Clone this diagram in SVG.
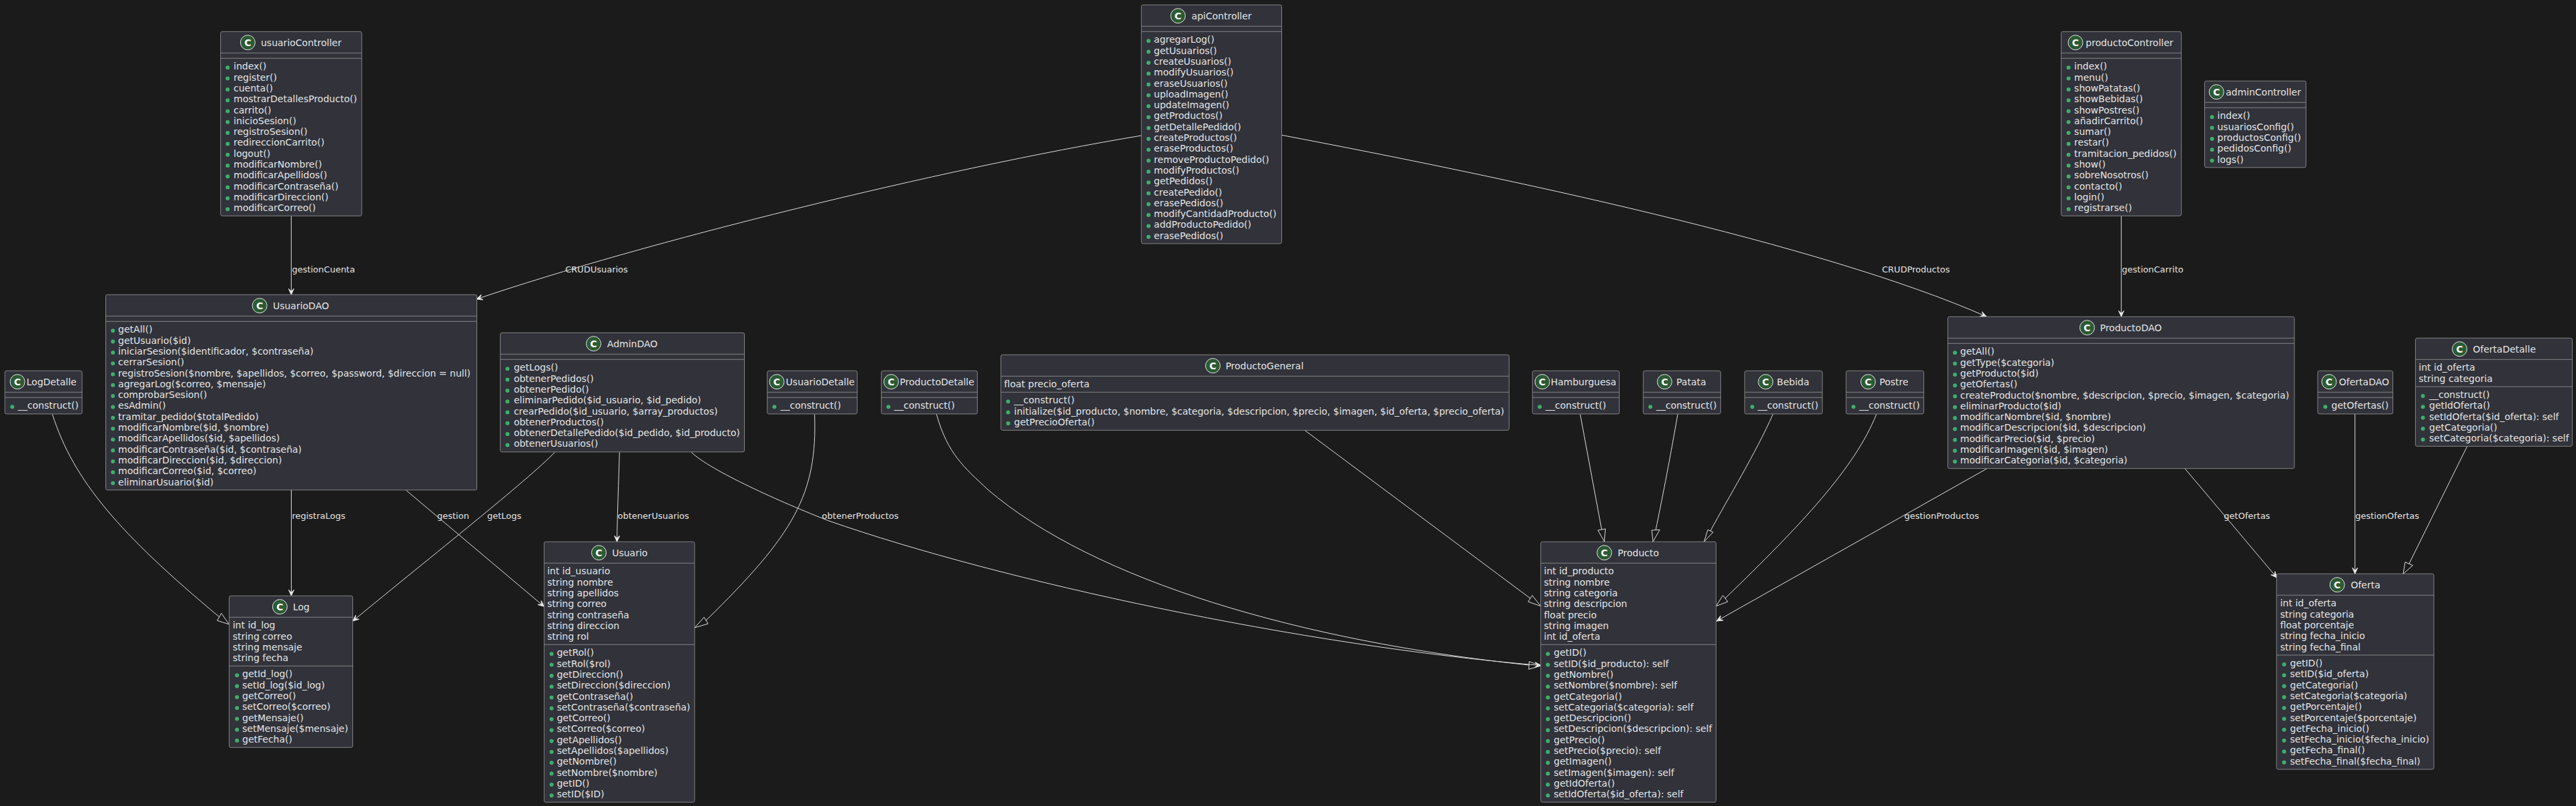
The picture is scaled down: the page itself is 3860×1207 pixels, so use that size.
<svg xmlns="http://www.w3.org/2000/svg" width="3860" height="1207" viewBox="0 0 3860 1207">
<style>
text{font-family:"DejaVu Sans",Verdana,sans-serif;font-size:14px;fill:#e6e6e6}
.box{fill:#31323a;stroke:#858585;stroke-width:1}
.sep{stroke:#858585;stroke-width:1}
.spot{fill:#2c5a33;stroke:#e6e6e6;stroke-width:1}
text.c{font-size:14px;font-weight:bold;text-anchor:middle;fill:#fff}
.dot{fill:#3fae6b}
.lnk{fill:none;stroke:#e0e0e0;stroke-width:1}
.arr{marker-end:url(#open)}
.tri{fill:none;stroke:#e0e0e0;stroke-width:1}
text.lb{font-size:13px}
</style>
<defs>
<marker id="open" markerUnits="userSpaceOnUse" viewBox="-12 -7 14 14" refX="0" refY="0" markerWidth="14" markerHeight="14" orient="auto"><path d="M0,0 L-9,-4 L-5,0 L-9,4 Z" fill="#e8e8e8" stroke="#e8e8e8" stroke-width="1"/></marker>
</defs>
<rect width="3860" height="1207" fill="#1b1b1b"/>
<g id="connectors">
<path class="lnk arr" d="M436.4,323.3 V441.3"/>
<path class="lnk arr" d="M1710.3,203 C1410,253 964,363 714,448"/>
<path class="lnk arr" d="M1920.5,202.3 C2250,265 2726,364 2976.5,474"/>
<path class="lnk arr" d="M3178.6,323.3 V474.3"/>
<path class="lnk arr" d="M436.5,734 V892.3"/>
<path class="lnk arr" d="M608.3,734 L815.3,908.3"/>
<path class="lnk arr" d="M831.3,677.3 C790,720 650,830 528.6,930"/>
<path class="lnk arr" d="M928.3,677.3 C927,720 925,770 924.5,811.3"/>
<path class="lnk arr" d="M1036,677.3 C1065,705 1170,752 1242,780 C1500,870 1950,967 2309,996.5"/>
<path class="lnk arr" d="M2978,701.3 L2572.4,930"/>
<path class="lnk arr" d="M3273.7,701.3 L3411.7,865"/>
<path class="lnk arr" d="M3528.8,620 V859.3"/>
<path class="lnk" d="M78.5,620.3 C110,720 180,800 328.5,923.8"/>
<polygon class="tri" points="343.4,935 325.5,929.3 331.6,918.3"/>
<path class="lnk" d="M1220.6,620.3 C1225,740 1190,800 1058,929"/>
<polygon class="tri" points="1040.8,940 1055,924.3 1061,934"/>
<path class="lnk" d="M1403.3,620.3 C1420,680 1445,700 1480,733 C1640,870 1950,960 2291,996"/>
<polygon class="tri" points="2308.7,997 2291.3,990.7 2290.8,1002.3"/>
<path class="lnk" d="M1955,644.3 L2293,896"/>
<polygon class="tri" points="2308.7,907.7 2289.8,901 2296,891.7"/>
<path class="lnk" d="M2367.8,620.3 L2400,793"/>
<polygon class="tri" points="2404,811 2394.4,794 2405.6,792"/>
<path class="lnk" d="M2514,620.3 C2500,700 2490,750 2481,793.7"/>
<polygon class="tri" points="2477,811 2475,794 2487,793.3"/>
<path class="lnk" d="M2656.7,620.3 C2630,680 2590,745 2563,795"/>
<polygon class="tri" points="2553.6,811 2559,793.3 2567,797"/>
<path class="lnk" d="M2811.7,620.3 C2780,700 2700,785 2585,896"/>
<polygon class="tri" points="2571.4,907.7 2581.6,891.7 2589,901"/>
<path class="lnk" d="M3696.9,668.3 L3610,844"/>
<polygon class="tri" points="3601,859.3 3604,841.7 3615.4,846.7"/>
<text class="lb" x="437.4" y="408">gestionCuenta</text>
<text class="lb" x="847" y="408">CRUDUsuarios</text>
<text class="lb" x="2820" y="408">CRUDProductos</text>
<text class="lb" x="3179.6" y="408">gestionCarrito</text>
<text class="lb" x="437.4" y="777">registraLogs</text>
<text class="lb" x="655" y="777">gestion</text>
<text class="lb" x="730" y="777">getLogs</text>
<text class="lb" x="925.5" y="777">obtenerUsuarios</text>
<text class="lb" x="1231.6" y="777">obtenerProductos</text>
<text class="lb" x="2853.5" y="777">gestionProductos</text>
<text class="lb" x="3332.3" y="777">getOfertas</text>
<text class="lb" x="3529.2" y="777">gestionOfertas</text>
</g>
<g id="usuarioController"><rect class="box" x="330.6" y="47.3" width="211.4" height="276" rx="2.5"/><line class="sep" x1="330.6" x2="542" y1="79.3" y2="79.3"/><line class="sep" x1="330.6" x2="542" y1="87.3" y2="87.3"/><circle class="spot" cx="371.3" cy="63.7" r="11"/><text class="c" x="371.3" y="68.7">C</text><text x="391" y="68.7">usuarioController</text>
<g class="dot"><circle cx="341.1" cy="101.3" r="3"/><circle cx="341.1" cy="117.6" r="3"/><circle cx="341.1" cy="133.9" r="3"/><circle cx="341.1" cy="150.2" r="3"/><circle cx="341.1" cy="166.5" r="3"/><circle cx="341.1" cy="182.8" r="3"/><circle cx="341.1" cy="199.1" r="3"/><circle cx="341.1" cy="215.4" r="3"/><circle cx="341.1" cy="231.7" r="3"/><circle cx="341.1" cy="248" r="3"/><circle cx="341.1" cy="264.3" r="3"/><circle cx="341.1" cy="280.6" r="3"/><circle cx="341.1" cy="296.9" r="3"/><circle cx="341.1" cy="313.2" r="3"/></g>
<text x="350" y="104.3">index()</text><text x="350" y="120.6">register()</text><text x="350" y="136.9">cuenta()</text><text x="350" y="153.2">mostrarDetallesProducto()</text><text x="350" y="169.5">carrito()</text><text x="350" y="185.8">inicioSesion()</text><text x="350" y="202.1">registroSesion()</text><text x="350" y="218.4">redireccionCarrito()</text><text x="350" y="234.7">logout()</text><text x="350" y="251">modificarNombre()</text><text x="350" y="267.3">modificarApellidos()</text><text x="350" y="283.6">modificarContraseña()</text><text x="350" y="299.9">modificarDireccion()</text><text x="350" y="316.2">modificarCorreo()</text></g>
<g id="apiController"><rect class="box" x="1710.3" y="7.3" width="210.2" height="357.5" rx="2.5"/><line class="sep" x1="1710.3" x2="1920.5" y1="39.3" y2="39.3"/><line class="sep" x1="1710.3" x2="1920.5" y1="47.3" y2="47.3"/><circle class="spot" cx="1765.2" cy="23.7" r="11"/><text class="c" x="1765.2" y="28.7">C</text><text x="1785.4" y="28.7">apiController</text>
<g class="dot"><circle cx="1721" cy="61.3" r="3"/><circle cx="1721" cy="77.6" r="3"/><circle cx="1721" cy="93.9" r="3"/><circle cx="1721" cy="110.2" r="3"/><circle cx="1721" cy="126.5" r="3"/><circle cx="1721" cy="142.8" r="3"/><circle cx="1721" cy="159.1" r="3"/><circle cx="1721" cy="175.4" r="3"/><circle cx="1721" cy="191.7" r="3"/><circle cx="1721" cy="208" r="3"/><circle cx="1721" cy="224.3" r="3"/><circle cx="1721" cy="240.6" r="3"/><circle cx="1721" cy="256.9" r="3"/><circle cx="1721" cy="273.2" r="3"/><circle cx="1721" cy="289.5" r="3"/><circle cx="1721" cy="305.8" r="3"/><circle cx="1721" cy="322.1" r="3"/><circle cx="1721" cy="338.4" r="3"/><circle cx="1721" cy="354.7" r="3"/></g>
<text x="1729.1" y="64.3">agregarLog()</text><text x="1729.1" y="80.6">getUsuarios()</text><text x="1729.1" y="96.9">createUsuarios()</text><text x="1729.1" y="113.2">modifyUsuarios()</text><text x="1729.1" y="129.5">eraseUsuarios()</text><text x="1729.1" y="145.8">uploadImagen()</text><text x="1729.1" y="162.1">updateImagen()</text><text x="1729.1" y="178.4">getProductos()</text><text x="1729.1" y="194.7">getDetallePedido()</text><text x="1729.1" y="211">createProductos()</text><text x="1729.1" y="227.3">eraseProductos()</text><text x="1729.1" y="243.6">removeProductoPedido()</text><text x="1729.1" y="259.9">modifyProductos()</text><text x="1729.1" y="276.2">getPedidos()</text><text x="1729.1" y="292.5">createPedido()</text><text x="1729.1" y="308.8">erasePedidos()</text><text x="1729.1" y="325.1">modifyCantidadProducto()</text><text x="1729.1" y="341.4">addProductoPedido()</text><text x="1729.1" y="357.7">erasePedidos()</text></g>
<g id="productoController"><rect class="box" x="3088.6" y="47.3" width="180" height="276" rx="2.5"/><line class="sep" x1="3088.6" x2="3268.6" y1="79.3" y2="79.3"/><line class="sep" x1="3088.6" x2="3268.6" y1="87.3" y2="87.3"/><circle class="spot" cx="3110" cy="63.7" r="11"/><text class="c" x="3110" y="68.7">C</text><text x="3125.3" y="68.7">productoController</text>
<g class="dot"><circle cx="3099.6" cy="101.3" r="3"/><circle cx="3099.6" cy="117.6" r="3"/><circle cx="3099.6" cy="133.9" r="3"/><circle cx="3099.6" cy="150.2" r="3"/><circle cx="3099.6" cy="166.5" r="3"/><circle cx="3099.6" cy="182.8" r="3"/><circle cx="3099.6" cy="199.1" r="3"/><circle cx="3099.6" cy="215.4" r="3"/><circle cx="3099.6" cy="231.7" r="3"/><circle cx="3099.6" cy="248" r="3"/><circle cx="3099.6" cy="264.3" r="3"/><circle cx="3099.6" cy="280.6" r="3"/><circle cx="3099.6" cy="296.9" r="3"/><circle cx="3099.6" cy="313.2" r="3"/></g>
<text x="3108.1" y="104.3">index()</text><text x="3108.1" y="120.6">menu()</text><text x="3108.1" y="136.9">showPatatas()</text><text x="3108.1" y="153.2">showBebidas()</text><text x="3108.1" y="169.5">showPostres()</text><text x="3108.1" y="185.8">añadirCarrito()</text><text x="3108.1" y="202.1">sumar()</text><text x="3108.1" y="218.4">restar()</text><text x="3108.1" y="234.7">tramitacion_pedidos()</text><text x="3108.1" y="251">show()</text><text x="3108.1" y="267.3">sobreNosotros()</text><text x="3108.1" y="283.6">contacto()</text><text x="3108.1" y="299.9">login()</text><text x="3108.1" y="316.2">registrarse()</text></g>
<g id="adminController"><rect class="box" x="3303.5" y="121.3" width="151.9" height="129.5" rx="2.5"/><line class="sep" x1="3303.5" x2="3455.4" y1="153.3" y2="153.3"/><line class="sep" x1="3303.5" x2="3455.4" y1="161.3" y2="161.3"/><circle class="spot" cx="3321.3" cy="137.7" r="11"/><text class="c" x="3321.3" y="142.7">C</text><text x="3335.2" y="142.7">adminController</text>
<g class="dot"><circle cx="3314.6" cy="175.3" r="3"/><circle cx="3314.6" cy="191.6" r="3"/><circle cx="3314.6" cy="207.9" r="3"/><circle cx="3314.6" cy="224.2" r="3"/><circle cx="3314.6" cy="240.5" r="3"/></g>
<text x="3322.5" y="178.3">index()</text><text x="3322.5" y="194.6">usuariosConfig()</text><text x="3322.5" y="210.9">productosConfig()</text><text x="3322.5" y="227.2">pedidosConfig()</text><text x="3322.5" y="243.5">logs()</text></g>
<g id="UsuarioDAO"><rect class="box" x="158.5" y="441.3" width="556" height="292.5" rx="2.5"/><line class="sep" x1="158.5" x2="714.5" y1="473.3" y2="473.3"/><line class="sep" x1="158.5" x2="714.5" y1="481.3" y2="481.3"/><circle class="spot" cx="389.1" cy="457.7" r="11"/><text class="c" x="389.1" y="462.7">C</text><text x="408.9" y="462.7">UsuarioDAO</text>
<g class="dot"><circle cx="169.2" cy="495.3" r="3"/><circle cx="169.2" cy="511.6" r="3"/><circle cx="169.2" cy="527.9" r="3"/><circle cx="169.2" cy="544.2" r="3"/><circle cx="169.2" cy="560.5" r="3"/><circle cx="169.2" cy="576.8" r="3"/><circle cx="169.2" cy="593.1" r="3"/><circle cx="169.2" cy="609.4" r="3"/><circle cx="169.2" cy="625.7" r="3"/><circle cx="169.2" cy="642" r="3"/><circle cx="169.2" cy="658.3" r="3"/><circle cx="169.2" cy="674.6" r="3"/><circle cx="169.2" cy="690.9" r="3"/><circle cx="169.2" cy="707.2" r="3"/><circle cx="169.2" cy="723.5" r="3"/></g>
<text x="177.1" y="498.3">getAll()</text><text x="177.1" y="514.6">getUsuario($id)</text><text x="177.1" y="530.9">iniciarSesion($identificador, $contraseña)</text><text x="177.1" y="547.2">cerrarSesion()</text><text x="177.1" y="563.5">registroSesion($nombre, $apellidos, $correo, $password, $direccion = null)</text><text x="177.1" y="579.8">agregarLog($correo, $mensaje)</text><text x="177.1" y="596.1">comprobarSesion()</text><text x="177.1" y="612.4">esAdmin()</text><text x="177.1" y="628.7">tramitar_pedido($totalPedido)</text><text x="177.1" y="645">modificarNombre($id, $nombre)</text><text x="177.1" y="661.3">modificarApellidos($id, $apellidos)</text><text x="177.1" y="677.6">modificarContraseña($id, $contraseña)</text><text x="177.1" y="693.9">modificarDireccion($id, $direccion)</text><text x="177.1" y="710.2">modificarCorreo($id, $correo)</text><text x="177.1" y="726.5">eliminarUsuario($id)</text></g>
<g id="AdminDAO"><rect class="box" x="749.7" y="498.3" width="365.8" height="178.5" rx="2.5"/><line class="sep" x1="749.7" x2="1115.5" y1="530.3" y2="530.3"/><line class="sep" x1="749.7" x2="1115.5" y1="538.3" y2="538.3"/><circle class="spot" cx="889.5" cy="514.7" r="11"/><text class="c" x="889.5" y="519.7">C</text><text x="909.8" y="519.7">AdminDAO</text>
<g class="dot"><circle cx="760.4" cy="552.3" r="3"/><circle cx="760.4" cy="568.6" r="3"/><circle cx="760.4" cy="584.9" r="3"/><circle cx="760.4" cy="601.2" r="3"/><circle cx="760.4" cy="617.5" r="3"/><circle cx="760.4" cy="633.8" r="3"/><circle cx="760.4" cy="650.1" r="3"/><circle cx="760.4" cy="666.4" r="3"/></g>
<text x="769.9" y="555.3">getLogs()</text><text x="769.9" y="571.6">obtenerPedidos()</text><text x="769.9" y="587.9">obtenerPedido()</text><text x="769.9" y="604.2">eliminarPedido($id_usuario, $id_pedido)</text><text x="769.9" y="620.5">crearPedido($id_usuario, $array_productos)</text><text x="769.9" y="636.8">obtenerProductos()</text><text x="769.9" y="653.1">obtenerDetallePedido($id_pedido, $id_producto)</text><text x="769.9" y="669.4">obtenerUsuarios()</text></g>
<g id="LogDetalle"><rect class="box" x="7.3" y="555.3" width="115.7" height="64.6" rx="2.5"/><line class="sep" x1="7.3" x2="123" y1="587.3" y2="587.3"/><line class="sep" x1="7.3" x2="123" y1="595.3" y2="595.3"/><circle class="spot" cx="26.2" cy="571.7" r="11"/><text class="c" x="26.2" y="576.7">C</text><text x="39.8" y="576.7">LogDetalle</text><circle class="dot" cx="18.4" cy="609.3" r="3"/><text x="27" y="612.3">__construct()</text></g>
<g id="UsuarioDetalle"><rect class="box" x="1149.7" y="555.3" width="134.7" height="64.6" rx="2.5"/><line class="sep" x1="1149.7" x2="1284.4" y1="587.3" y2="587.3"/><line class="sep" x1="1149.7" x2="1284.4" y1="595.3" y2="595.3"/><circle class="spot" cx="1164" cy="571.7" r="11"/><text class="c" x="1164" y="576.7">C</text><text x="1177.6" y="576.7">UsuarioDetalle</text><circle class="dot" cx="1160.4" cy="609.3" r="3"/><text x="1169.5" y="612.3">__construct()</text></g>
<g id="ProductoDetalle"><rect class="box" x="1320.6" y="555.3" width="143.9" height="64.6" rx="2.5"/><line class="sep" x1="1320.6" x2="1464.5" y1="587.3" y2="587.3"/><line class="sep" x1="1320.6" x2="1464.5" y1="595.3" y2="595.3"/><circle class="spot" cx="1335.4" cy="571.7" r="11"/><text class="c" x="1335.4" y="576.7">C</text><text x="1348.3" y="576.7">ProductoDetalle</text><circle class="dot" cx="1331.3" cy="609.3" r="3"/><text x="1340" y="612.3">__construct()</text></g>
<g id="ProductoGeneral"><rect class="box" x="1499.8" y="531.3" width="761.5" height="113" rx="2.5"/><line class="sep" x1="1499.8" x2="2261.3" y1="563.3" y2="563.3"/><line class="sep" x1="1499.8" x2="2261.3" y1="587.3" y2="587.3"/><circle class="spot" cx="1817.4" cy="547.7" r="11"/><text class="c" x="1817.4" y="552.7">C</text><text x="1836.4" y="552.7">ProductoGeneral</text><text x="1504.6" y="580.3">float precio_oferta</text>
<g class="dot"><circle cx="1510.6" cy="601.3" r="3"/><circle cx="1510.6" cy="617.6" r="3"/><circle cx="1510.6" cy="633.9" r="3"/></g>
<text x="1519.5" y="604.3">__construct()</text><text x="1519.5" y="620.6">initialize($id_producto, $nombre, $categoria, $descripcion, $precio, $imagen, $id_oferta, $precio_oferta)</text><text x="1519.5" y="636.9">getPrecioOferta()</text></g>
<g id="Hamburguesa"><rect class="box" x="2296.3" y="555.3" width="130.1" height="64.6" rx="2.5"/><line class="sep" x1="2296.3" x2="2426.4" y1="587.3" y2="587.3"/><line class="sep" x1="2296.3" x2="2426.4" y1="595.3" y2="595.3"/><circle class="spot" cx="2311" cy="571.7" r="11"/><text class="c" x="2311" y="576.7">C</text><text x="2323.7" y="576.7">Hamburguesa</text><circle class="dot" cx="2307.2" cy="609.3" r="3"/><text x="2316" y="612.3">__construct()</text></g>
<g id="Patata"><rect class="box" x="2462.3" y="555.3" width="116" height="64.6" rx="2.5"/><line class="sep" x1="2462.3" x2="2578.3" y1="587.3" y2="587.3"/><line class="sep" x1="2462.3" x2="2578.3" y1="595.3" y2="595.3"/><circle class="spot" cx="2494.3" cy="571.7" r="11"/><text class="c" x="2494.3" y="576.7">C</text><text x="2512" y="576.7">Patata</text><circle class="dot" cx="2473" cy="609.3" r="3"/><text x="2481.7" y="612.3">__construct()</text></g>
<g id="Bebida"><rect class="box" x="2614.3" y="555.3" width="116.4" height="64.6" rx="2.5"/><line class="sep" x1="2614.3" x2="2730.7" y1="587.3" y2="587.3"/><line class="sep" x1="2614.3" x2="2730.7" y1="595.3" y2="595.3"/><circle class="spot" cx="2645.7" cy="571.7" r="11"/><text class="c" x="2645.7" y="576.7">C</text><text x="2662.6" y="576.7">Bebida</text><circle class="dot" cx="2625.7" cy="609.3" r="3"/><text x="2634" y="612.3">__construct()</text></g>
<g id="Postre"><rect class="box" x="2766.3" y="555.3" width="116.4" height="64.6" rx="2.5"/><line class="sep" x1="2766.3" x2="2882.7" y1="587.3" y2="587.3"/><line class="sep" x1="2766.3" x2="2882.7" y1="595.3" y2="595.3"/><circle class="spot" cx="2799.3" cy="571.7" r="11"/><text class="c" x="2799.3" y="576.7">C</text><text x="2816.3" y="576.7">Postre</text><circle class="dot" cx="2777.3" cy="609.3" r="3"/><text x="2786" y="612.3">__construct()</text></g>
<g id="ProductoDAO"><rect class="box" x="2918.7" y="474.3" width="519.3" height="227.3" rx="2.5"/><line class="sep" x1="2918.7" x2="3438" y1="506.3" y2="506.3"/><line class="sep" x1="2918.7" x2="3438" y1="514.3" y2="514.3"/><circle class="spot" cx="3127.5" cy="490.7" r="11"/><text class="c" x="3127.5" y="495.7">C</text><text x="3146.7" y="495.7">ProductoDAO</text>
<g class="dot"><circle cx="2929.4" cy="528.3" r="3"/><circle cx="2929.4" cy="544.6" r="3"/><circle cx="2929.4" cy="560.9" r="3"/><circle cx="2929.4" cy="577.2" r="3"/><circle cx="2929.4" cy="593.5" r="3"/><circle cx="2929.4" cy="609.8" r="3"/><circle cx="2929.4" cy="626.1" r="3"/><circle cx="2929.4" cy="642.4" r="3"/><circle cx="2929.4" cy="658.7" r="3"/><circle cx="2929.4" cy="675" r="3"/><circle cx="2929.4" cy="691.3" r="3"/></g>
<text x="2937.3" y="531.3">getAll()</text><text x="2937.3" y="547.6">getType($categoria)</text><text x="2937.3" y="563.9">getProducto($id)</text><text x="2937.3" y="580.2">getOfertas()</text><text x="2937.3" y="596.5">createProducto($nombre, $descripcion, $precio, $imagen, $categoria)</text><text x="2937.3" y="612.8">eliminarProducto($id)</text><text x="2937.3" y="629.1">modificarNombre($id, $nombre)</text><text x="2937.3" y="645.4">modificarDescripcion($id, $descripcion)</text><text x="2937.3" y="661.7">modificarPrecio($id, $precio)</text><text x="2937.3" y="678">modificarImagen($id, $imagen)</text><text x="2937.3" y="694.3">modificarCategoria($id, $categoria)</text></g>
<g id="OfertaDAO"><rect class="box" x="3473" y="555.3" width="112.6" height="64.6" rx="2.5"/><line class="sep" x1="3473" x2="3585.6" y1="587.3" y2="587.3"/><line class="sep" x1="3473" x2="3585.6" y1="595.3" y2="595.3"/><circle class="spot" cx="3490" cy="571.7" r="11"/><text class="c" x="3490" y="576.7">C</text><text x="3504.8" y="576.7">OfertaDAO</text><circle class="dot" cx="3484.4" cy="609.3" r="3"/><text x="3493.6" y="612.3">getOfertas()</text></g>
<g id="OfertaDetalle"><rect class="box" x="3619.4" y="506.3" width="235" height="162" rx="2.5"/><line class="sep" x1="3619.4" x2="3854.4" y1="538.3" y2="538.3"/><line class="sep" x1="3619.4" x2="3854.4" y1="579" y2="579"/><circle class="spot" cx="3685.6" cy="522.7" r="11"/><text class="c" x="3685.6" y="527.7">C</text><text x="3705.5" y="527.7">OfertaDetalle</text><text x="3624.3" y="555.3">int id_oferta</text><text x="3624.3" y="571.6">string categoria</text>
<g class="dot"><circle cx="3630.6" cy="593" r="3"/><circle cx="3630.6" cy="609.3" r="3"/><circle cx="3630.6" cy="625.6" r="3"/><circle cx="3630.6" cy="641.9" r="3"/><circle cx="3630.6" cy="658.2" r="3"/></g>
<text x="3640" y="596">__construct()</text><text x="3640" y="612.3">getIdOferta()</text><text x="3640" y="628.6">setIdOferta($id_oferta): self</text><text x="3640" y="644.9">getCategoria()</text><text x="3640" y="661.2">setCategoria($categoria): self</text></g>
<g id="Log"><rect class="box" x="343.4" y="892.3" width="185.2" height="227" rx="2.5"/><line class="sep" x1="343.4" x2="528.6" y1="924.3" y2="924.3"/><line class="sep" x1="343.4" x2="528.6" y1="997.3" y2="997.3"/><circle class="spot" cx="419.4" cy="908.7" r="11"/><text class="c" x="419.4" y="913.7">C</text><text x="438.9" y="913.7">Log</text><text x="348.7" y="941.3">int id_log</text><text x="348.7" y="957.6">string correo</text><text x="348.7" y="973.9">string mensaje</text><text x="348.7" y="990.2">string fecha</text>
<g class="dot"><circle cx="355.1" cy="1011.3" r="3"/><circle cx="355.1" cy="1027.6" r="3"/><circle cx="355.1" cy="1043.9" r="3"/><circle cx="355.1" cy="1060.2" r="3"/><circle cx="355.1" cy="1076.5" r="3"/><circle cx="355.1" cy="1092.8" r="3"/><circle cx="355.1" cy="1109.1" r="3"/></g>
<text x="363" y="1014.3">getId_log()</text><text x="363" y="1030.6">setId_log($id_log)</text><text x="363" y="1046.9">getCorreo()</text><text x="363" y="1063.2">setCorreo($correo)</text><text x="363" y="1079.5">getMensaje()</text><text x="363" y="1095.8">setMensaje($mensaje)</text><text x="363" y="1112.1">getFecha()</text></g>
<g id="Usuario"><rect class="box" x="815.3" y="811.3" width="225.5" height="390" rx="2.5"/><line class="sep" x1="815.3" x2="1040.8" y1="843.3" y2="843.3"/><line class="sep" x1="815.3" x2="1040.8" y1="965.3" y2="965.3"/><circle class="spot" cx="897.4" cy="827.7" r="11"/><text class="c" x="897.4" y="832.7">C</text><text x="917.2" y="832.7">Usuario</text><text x="819.9" y="860.3">int id_usuario</text><text x="819.9" y="876.6">string nombre</text><text x="819.9" y="892.9">string apellidos</text><text x="819.9" y="909.2">string correo</text><text x="819.9" y="925.5">string contraseña</text><text x="819.9" y="941.8">string direccion</text><text x="819.9" y="958.1">string rol</text>
<g class="dot"><circle cx="826.5" cy="979.3" r="3"/><circle cx="826.5" cy="995.6" r="3"/><circle cx="826.5" cy="1011.9" r="3"/><circle cx="826.5" cy="1028.2" r="3"/><circle cx="826.5" cy="1044.5" r="3"/><circle cx="826.5" cy="1060.8" r="3"/><circle cx="826.5" cy="1077.1" r="3"/><circle cx="826.5" cy="1093.4" r="3"/><circle cx="826.5" cy="1109.7" r="3"/><circle cx="826.5" cy="1126" r="3"/><circle cx="826.5" cy="1142.3" r="3"/><circle cx="826.5" cy="1158.6" r="3"/><circle cx="826.5" cy="1174.9" r="3"/><circle cx="826.5" cy="1191.2" r="3"/></g>
<text x="834.4" y="982.3">getRol()</text><text x="834.4" y="998.6">setRol($rol)</text><text x="834.4" y="1014.9">getDireccion()</text><text x="834.4" y="1031.2">setDireccion($direccion)</text><text x="834.4" y="1047.5">getContraseña()</text><text x="834.4" y="1063.8">setContraseña($contraseña)</text><text x="834.4" y="1080.1">getCorreo()</text><text x="834.4" y="1096.4">setCorreo($correo)</text><text x="834.4" y="1112.7">getApellidos()</text><text x="834.4" y="1129">setApellidos($apellidos)</text><text x="834.4" y="1145.3">getNombre()</text><text x="834.4" y="1161.6">setNombre($nombre)</text><text x="834.4" y="1177.9">getID()</text><text x="834.4" y="1194.2">setID($ID)</text></g>
<g id="Producto"><rect class="box" x="2308.7" y="811.3" width="262.7" height="390" rx="2.5"/><line class="sep" x1="2308.7" x2="2571.4" y1="843.3" y2="843.3"/><line class="sep" x1="2308.7" x2="2571.4" y1="965.3" y2="965.3"/><circle class="spot" cx="2404" cy="827.7" r="11"/><text class="c" x="2404" y="832.7">C</text><text x="2424.1" y="832.7">Producto</text><text x="2313.5" y="860.3">int id_producto</text><text x="2313.5" y="876.6">string nombre</text><text x="2313.5" y="892.9">string categoria</text><text x="2313.5" y="909.2">string descripcion</text><text x="2313.5" y="925.5">float precio</text><text x="2313.5" y="941.8">string imagen</text><text x="2313.5" y="958.1">int id_oferta</text>
<g class="dot"><circle cx="2319.4" cy="979.3" r="3"/><circle cx="2319.4" cy="995.6" r="3"/><circle cx="2319.4" cy="1011.9" r="3"/><circle cx="2319.4" cy="1028.2" r="3"/><circle cx="2319.4" cy="1044.5" r="3"/><circle cx="2319.4" cy="1060.8" r="3"/><circle cx="2319.4" cy="1077.1" r="3"/><circle cx="2319.4" cy="1093.4" r="3"/><circle cx="2319.4" cy="1109.7" r="3"/><circle cx="2319.4" cy="1126" r="3"/><circle cx="2319.4" cy="1142.3" r="3"/><circle cx="2319.4" cy="1158.6" r="3"/><circle cx="2319.4" cy="1174.9" r="3"/><circle cx="2319.4" cy="1191.2" r="3"/></g>
<text x="2328.3" y="982.3">getID()</text><text x="2328.3" y="998.6">setID($id_producto): self</text><text x="2328.3" y="1014.9">getNombre()</text><text x="2328.3" y="1031.2">setNombre($nombre): self</text><text x="2328.3" y="1047.5">getCategoria()</text><text x="2328.3" y="1063.8">setCategoria($categoria): self</text><text x="2328.3" y="1080.1">getDescripcion()</text><text x="2328.3" y="1096.4">setDescripcion($descripcion): self</text><text x="2328.3" y="1112.7">getPrecio()</text><text x="2328.3" y="1129">setPrecio($precio): self</text><text x="2328.3" y="1145.3">getImagen()</text><text x="2328.3" y="1161.6">setImagen($imagen): self</text><text x="2328.3" y="1177.9">getIdOferta()</text><text x="2328.3" y="1194.2">setIdOferta($id_oferta): self</text></g>
<g id="Oferta"><rect class="box" x="3411.3" y="859.3" width="235.7" height="292.8" rx="2.5"/><line class="sep" x1="3411.3" x2="3647" y1="891.3" y2="891.3"/><line class="sep" x1="3411.3" x2="3647" y1="981" y2="981"/><circle class="spot" cx="3502.2" cy="875.7" r="11"/><text class="c" x="3502.2" y="880.7">C</text><text x="3522.4" y="880.7">Oferta</text><text x="3416.7" y="908.3">int id_oferta</text><text x="3416.7" y="924.6">string categoria</text><text x="3416.7" y="940.9">float porcentaje</text><text x="3416.7" y="957.2">string fecha_inicio</text><text x="3416.7" y="973.5">string fecha_final</text>
<g class="dot"><circle cx="3422.6" cy="995" r="3"/><circle cx="3422.6" cy="1011.3" r="3"/><circle cx="3422.6" cy="1027.6" r="3"/><circle cx="3422.6" cy="1043.9" r="3"/><circle cx="3422.6" cy="1060.2" r="3"/><circle cx="3422.6" cy="1076.5" r="3"/><circle cx="3422.6" cy="1092.8" r="3"/><circle cx="3422.6" cy="1109.1" r="3"/><circle cx="3422.6" cy="1125.4" r="3"/><circle cx="3422.6" cy="1141.7" r="3"/></g>
<text x="3431.5" y="998">getID()</text><text x="3431.5" y="1014.3">setID($id_oferta)</text><text x="3431.5" y="1030.6">getCategoria()</text><text x="3431.5" y="1046.9">setCategoria($categoria)</text><text x="3431.5" y="1063.2">getPorcentaje()</text><text x="3431.5" y="1079.5">setPorcentaje($porcentaje)</text><text x="3431.5" y="1095.8">getFecha_inicio()</text><text x="3431.5" y="1112.1">setFecha_inicio($fecha_inicio)</text><text x="3431.5" y="1128.4">getFecha_final()</text><text x="3431.5" y="1144.7">setFecha_final($fecha_final)</text></g>
</svg>
